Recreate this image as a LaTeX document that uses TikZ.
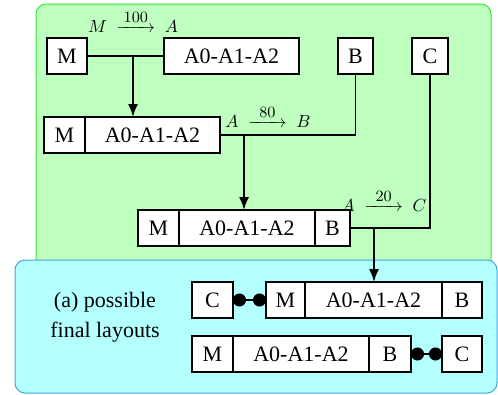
\documentclass[tikz,border=0pt]{standalone}
\usepackage{amsmath}
\usepackage{graphicx}
\usepackage{fontspec}
\setmainfont{Liberation Serif}
\usepackage{tikz}
\usetikzlibrary{arrows.meta,positioning}
\definecolor{stagefill}{RGB}{191,255,191}
\definecolor{stageline}{RGB}{60,230,60}
\definecolor{finalfill}{RGB}{180,255,255}
\definecolor{finalline}{RGB}{60,170,220}
\newcommand{\flowarrow}[1]{\;\overset{\mbox{\fontsize{9.5}{10}\selectfont$#1$}}{\mathrel{\makebox[22pt]{\rightarrowfill}}}\;}
\newcommand{\flowlabel}[3]{\scalebox{1.75}{$#1 \flowarrow{#2} #3$}}
\begin{document}
\begin{tikzpicture}[
  x=1pt,y=-1pt,
  font=\fontsize{22}{30}\selectfont,
  cell/.style={draw,fill=white,line width=1.5pt,outer sep=0pt,inner sep=0pt,minimum height=36pt,anchor=west},
  link/.style={line width=1.5pt},
  arr/.style={-{Latex[length=13pt,width=10pt]},line width=1.7pt},
  tie/.style={{Circle[length=13pt]}-{Circle[length=13pt]},line width=1.5pt},
  lbl/.style={anchor=base,inner sep=0pt,font=\fontsize{10}{12}\selectfont}
]
\useasboundingbox (0,0) rectangle (498,394);
\draw[rounded corners=10pt,draw=stageline,fill=stagefill,line width=1pt] (36,4) rectangle (491,280);
\draw[rounded corners=10pt,draw=finalline,fill=finalfill,line width=1pt] (15,260) rectangle (497,393);

\node[cell,minimum width=40pt] (m1) at (47,56) {M};
\node[cell,minimum width=135pt] (a1) at (164,56) {A0-A1-A2};
\node[cell,minimum width=35pt] (b1) at (338,56) {B};
\node[cell,minimum width=36pt] (c1) at (412,56) {C};

\node[cell,minimum width=41pt] (m2) at (44,135) {M};
\node[cell,minimum width=135pt,right=0pt of m2] (a2) {A0-A1-A2};

\node[cell,minimum width=41pt] (m3) at (138,228) {M};
\node[cell,minimum width=136pt,right=0pt of m3] (a3) {A0-A1-A2};
\node[cell,minimum width=35pt,right=0pt of a3] (b3) {B};

\node[cell,minimum width=41pt] (c4) at (192,300) {C};
\node[cell,minimum width=39pt] (m4) at (266,300) {M};
\node[cell,minimum width=137pt,right=0pt of m4] (a4) {A0-A1-A2};
\node[cell,minimum width=40pt,right=0pt of a4] (b4) {B};

\node[cell,minimum width=41pt] (m5) at (192,354) {M};
\node[cell,minimum width=136pt,right=0pt of m5] (a5) {A0-A1-A2};
\node[cell,minimum width=42pt,right=0pt of a5] (b5) {B};
\node[cell,minimum width=40pt] (c5) at (442,354) {C};

\coordinate (j1) at (133,56);
\coordinate (j2) at (244,135);
\coordinate (j3) at (374,228);

\draw[link] (m1) -- (a1);
\draw[arr] (j1) -- (j1 |- a2.north);
\draw[link] (a2.east) -| (b1.south);
\draw[arr] (j2) -- (j2 |- a3.north);
\draw[link] (b3.east) -| (c1.south);
\draw[arr] (j3) -- (j3 |- a4.north);
\draw[tie] (c4) -- (m4);
\draw[tie] (b5) -- (c5);

\node[lbl] (lab1) at (133,32) {\flowlabel{M}{100}{A}};
\node[lbl] (lab2) at (268,127) {\flowlabel{A}{80}{B}};
\node[lbl] (lab3) at (384,211) {\flowlabel{A}{20}{C}};
\node[align=center] (cap) at (105,317) {(a) possible\\final layouts};
\end{tikzpicture}
\end{document}
